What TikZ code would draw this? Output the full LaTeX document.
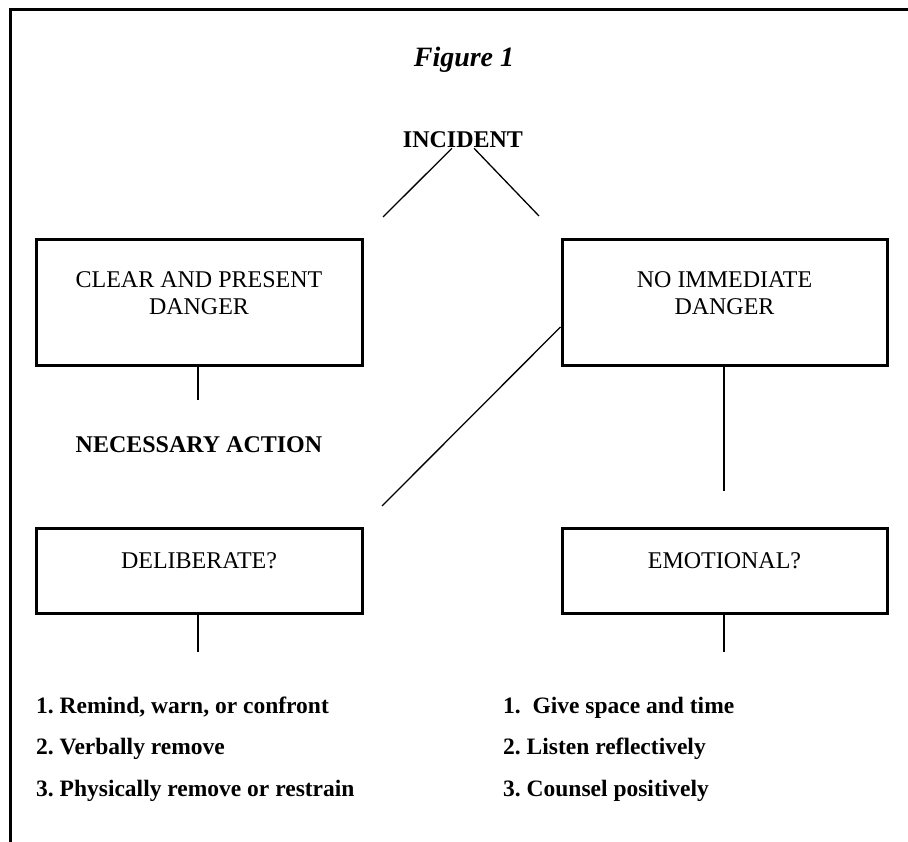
\documentclass[tikz,border=0pt]{standalone}
\usepackage{fontspec}
\setmainfont{Liberation Serif}
\usepackage{tikz}
\usetikzlibrary{positioning}
\frenchspacing
\tikzset{
  dbox/.style={draw, line width=3pt, minimum width=326pt, inner sep=0pt},
  boxtext/.style={font=\fontsize{24}{27}\selectfont, align=center, inner sep=0pt},
  plain/.style={font=\fontsize{24}{27}\selectfont\bfseries, inner sep=0pt},
  item/.style={font=\fontsize{23.5}{27}\selectfont\bfseries, anchor=base west, inner sep=0pt},
  link/.style={line width=1.3pt}
}

\begin{document}
\begin{tikzpicture}[x=1pt, y=-1pt]
  \useasboundingbox (0,0) rectangle (908,842);
  \draw[line width=3pt] (10,842) -- (10,10) -- (908,10);

  \node[font=\fontsize{28}{30}\selectfont\bfseries\itshape, inner sep=0pt, anchor=base] (title) at (464,67) {Figure 1};
  \node[plain] (incident) at (463,140) {INCIDENT};

  \node[dbox, minimum height=126pt] (clear) at (199,303) {};
  \node[boxtext, below=33pt of clear.north] (cleartxt) {CLEAR AND PRESENT\\DANGER};
  \node[dbox, minimum width=325pt, minimum height=126pt] (noimm) at (724.5,303) {};
  \node[boxtext, below=33pt of noimm.north] (noimmtxt) {NO IMMEDIATE\\DANGER};

  \node[plain] (action) at (199,445) {NECESSARY ACTION};

  \node[dbox, minimum height=85pt] (delib) at (199,570.5) {};
  \node[boxtext, below=26pt of delib.north] (delibtxt) {DELIBERATE?};
  \node[dbox, minimum width=325pt, minimum height=85pt] (emot) at (724.5,570.5) {};
  \node[boxtext, below=26pt of emot.north] (emottxt) {EMOTIONAL?};

  \coordinate (incl) at (383,217);
  \coordinate (incr) at (539,216);
  \coordinate (clearend) at (198,400);
  \coordinate (diagend) at (382,506);
  \coordinate (noimmend) at (724,491);
  \coordinate (delibend) at (198,652);
  \coordinate (emotend) at (724,652);

  \draw[link] ([xshift=-11pt]incident.south) -- (incl);
  \draw[link] ([xshift=11pt]incident.south) -- (incr);
  \draw[link] (clear.south -| clearend) -- (clearend);
  \draw[link] ([yshift=-24pt]noimm.west) -- (diagend);
  \draw[link] (noimm.south -| noimmend) -- (noimmend);
  \draw[link] (delib.south -| delibend) -- (delibend);
  \draw[link] (emot.south -| emotend) -- (emotend);

  \node[item] (del1) at (36,713) {1. Remind, warn, or confront};
  \node[item] (del2) at (36,754) {2. Verbally remove};
  \node[item] (del3) at (36,796) {3. Physically remove or restrain};
  \node[item] (emo1) at (503,713) {1.\ \ Give space and time};
  \node[item] (emo2) at (503,754) {2. Listen reflectively};
  \node[item] (emo3) at (503,796) {3. Counsel positively};
\end{tikzpicture}
\end{document}
